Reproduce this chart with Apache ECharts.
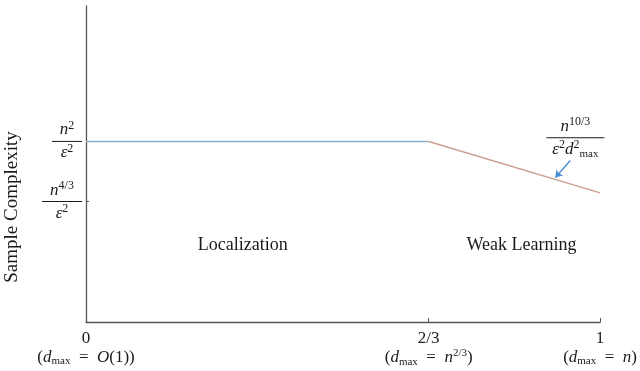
<!DOCTYPE html>
<html>
<head>
<meta charset="utf-8">
<script src="https://cdn.jsdelivr.net/npm/echarts@6/dist/echarts.min.js"></script>
<style>
html,body{margin:0;padding:0;background:#fff;}
#chart{width:640px;height:371px;}
</style>
</head>
<body>
<div id="chart"></div>
<script>
// ---- data ----
const xLocalization = [0, 2/3];
const yLocalization = [2, 2];
const xWeakLearning = [2/3, 1];
const yWeakLearning = [2, 1.43];
const xTicks = [0, 2/3, 1];
const xTickLabels = ['0', '2/3', '1'];
const yTicks = [4/3, 2];
const regionLabels = ['Localization', 'Weak Learning'];
const yAxisTitle = 'Sample Complexity';

const FONT = '"Liberation Serif", "DejaVu Serif", serif';
const INK = '#1a1a1a';
const chart = echarts.init(document.getElementById('chart'), null, {renderer: 'canvas'});

function tok(size, extra) {
  return Object.assign({fontFamily: FONT, fontSize: size, color: INK}, extra || {});
}
// tick-label rich styles
const richX = {
  n: tok(17, {lineHeight: 19}),
  t: tok(17, {lineHeight: 19}),
  it: tok(17, {fontStyle: 'italic', lineHeight: 19}),
  sup: tok(11, {verticalAlign: 'top', lineHeight: 20}),
  sub: tok(11, {verticalAlign: 'bottom', lineHeight: 19})
};
// fraction rich styles (centered tokens)
const richFrac = {
  it: tok(17, {fontStyle: 'italic', lineHeight: 17, align: 'center'}),
  sup: tok(12, {verticalAlign: 'top', lineHeight: 20, align: 'center'}),
  sub: tok(11, {verticalAlign: 'bottom', lineHeight: 20, align: 'center'}),
  bar1: {width: 30, height: 1, lineHeight: 3, backgroundColor: INK, align: 'center'},
  bar2: {width: 40, height: 1, lineHeight: 3, backgroundColor: INK, align: 'center'},
  bar3: {width: 58, height: 1, lineHeight: 3, backgroundColor: INK, align: 'center'}
};

function xLabel(v) {
  const i = xTicks.findIndex(t => Math.abs(t - v) < 1e-6);
  const head = '{n|' + xTickLabels[i] + '}\n';
  if (i === 0) return head + '{t|(}{it|d}{sub|max}{t|  =  }{it|O}{t|(1))}';
  if (i === 1) return head + '{t|(}{it|d}{sub|max}{t|  =  }{it|n}{sup|2/3}{t|)}';
  return head + '{t|(}{it|d}{sub|max}{t|  =  }{it|n}{t|)}';
}
function yLabel(v) {
  if (Math.abs(v - 2) < 1e-6) return '{it|n}{sup|2}\n{bar1| }\n{it|ε}{sup|2}';
  return '{it|n}{sup|4/3}\n{bar2| }\n{it|ε}{sup|2}';
}

const toPairs = (xs, ys) => xs.map((x, i) => [x, ys[i]]);

const option = {
  animation: false,
  backgroundColor: '#fff',
  grid: {left: 86, right: 39, top: 6, bottom: 49},
  xAxis: {
    type: 'value', min: 0, max: 1,
    splitLine: {show: false},
    axisLine: {lineStyle: {color: '#555', width: 1.3}},
    axisTick: {inside: true, length: 4, customValues: xTicks, lineStyle: {color: '#555'}},
    axisLabel: {customValues: xTicks, formatter: xLabel, rich: richX, margin: 7, color: INK}
  },
  yAxis: {
    type: 'value', min: 0, max: 3.5,
    splitLine: {show: false},
    axisLine: {show: true, lineStyle: {color: '#555', width: 1.3}},
    axisTick: {show: true, inside: true, length: 3, customValues: yTicks, lineStyle: {color: '#555'}},
    axisLabel: {customValues: yTicks, formatter: yLabel, rich: richFrac, margin: 4, color: INK}
  },
  graphic: [{
    type: 'text', x: 12, y: 207, rotation: Math.PI / 2,
    style: {text: yAxisTitle, font: '19px ' + FONT, fill: INK, textAlign: 'center', textVerticalAlign: 'middle'}
  }],
  series: [
    {
      type: 'line', data: toPairs(xLocalization, yLocalization), symbol: 'none',
      lineStyle: {color: '#8fb0c9', width: 1.5},
      markPoint: {
        symbol: 'circle', symbolSize: 0, silent: true,
        label: {show: true, fontFamily: FONT, fontSize: 18, color: INK, formatter: '{b}'},
        data: [{name: regionLabels[0], coord: [0.305, 0.855]}]
      }
    },
    {
      type: 'line', data: toPairs(xWeakLearning, yWeakLearning), symbol: 'none',
      lineStyle: {color: '#c9a08f', width: 1.5},
      markPoint: {
        symbol: 'circle', symbolSize: 0, silent: true,
        label: {show: true, fontFamily: FONT, fontSize: 18, color: INK, formatter: '{b}'},
        data: [
          {name: regionLabels[1], coord: [0.847, 0.855]},
          {name: 'frac', coord: [0.952, 2.04],
           label: {formatter: '{it|n}{sup|10/3}\n{bar3| }\n{it|ε}{sup|2}{it|d}{sup|2}{sub|max}', rich: richFrac}}
        ]
      },
      markLine: {
        silent: true, symbol: ['none', 'arrow'], symbolSize: 7,
        lineStyle: {color: '#4a8fd6', width: 1.5, type: 'solid'},
        label: {show: false},
        data: [[{coord: [0.942, 1.79]}, {coord: [0.913, 1.6]}]]
      }
    }
  ]
};
chart.setOption(option);
</script>
</body>
</html>
